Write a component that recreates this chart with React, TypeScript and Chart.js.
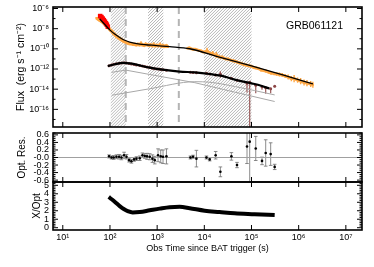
import React, { useEffect, useRef } from 'react';
import { Chart, registerables } from 'chart.js';

Chart.register(...registerables);

const FONT = "'Liberation Sans', Arial, Helvetica, sans-serif";

// ---------------- axes ----------------
const timeMin = 6.2;
const timeMax = 2.2e7;
const timeTicks = [10, 100, 1e3, 1e4, 1e5, 1e6, 1e7];
const timeTickLabels = ['10¹', '10²', '10³', '10⁴', '10⁵', '10⁶', '10⁷'];

const fluxMin = 1.78e-18;
const fluxMax = 1.41e-6;
const fluxTicks = [1e-16, 1e-14, 1e-12, 1e-10, 1e-8, 1e-6];
const fluxTickLabels = ['10⁻¹⁶', '10⁻¹⁴', '10⁻¹²', '10⁻¹⁰', '10⁻⁸', '10⁻⁶'];
const fluxMinorTicks = [1e-17, 1e-15, 1e-13, 1e-11, 1e-9, 1e-7];

const resMin = -0.65;
const resMax = 0.65;
const resTicks = [-0.6, -0.4, -0.2, 0, 0.2, 0.4, 0.6];
const resTickLabels = ['-0.6', '-0.4', '-0.2', '-0.0', '0.2', '0.4', '0.6'];
const resMinorTicks = [-0.65, -0.55, -0.5, -0.45, -0.35, -0.3, -0.25, -0.15, -0.1, -0.05, 0.05, 0.1, 0.15, 0.25, 0.3, 0.35, 0.45, 0.5, 0.55, 0.65];

const ratioMin = -0.27;
const ratioMax = 5.39;
const ratioTicks = [0, 1, 2, 3, 4, 5];
const ratioTickLabels = ['0', '1', '2', '3', '4', '5'];
const ratioMinorTicks = [0.2, 0.4, 0.6, 0.8, 1.2, 1.4, 1.6, 1.8, 2.2, 2.4, 2.6, 2.8, 3.2, 3.4, 3.6, 3.8, 4.2, 4.4, 4.6, 4.8, 5.2];

// ---------------- shaded intervals ----------------
const hatchStart = [104, 641, 9800];
const hatchEnd = [216, 1350, 1.0e5];
const dashedTimes = [216, 2880];

// ---------------- X-ray (orange) ----------------
const xrayTime1 = [52, 56, 60, 65, 70, 75, 80, 86, 92, 98, 105, 112, 120, 128, 137, 147, 158, 170, 183, 197, 212, 228, 245, 265, 285, 310, 335, 360, 390, 420, 455, 490, 530, 570, 620, 670, 720, 780, 840, 910, 980, 1060, 1150, 1240, 1340, 1450, 1570, 1680];
const xrayFlux1 = [1.12e-7, 8.9e-8, 7.1e-8, 5.6e-8, 4.5e-8, 3.2e-8, 2.5e-8, 1.78e-8, 1.26e-8, 8.9e-9, 6.3e-9, 5.0e-9, 3.2e-9, 2.5e-9, 1.78e-9, 1.41e-9, 1.12e-9, 8.9e-10, 7.1e-10, 5.6e-10, 5.0e-10, 4.0e-10, 3.5e-10, 3.2e-10, 3.2e-10, 2.8e-10, 2.8e-10, 2.5e-10, 2.8e-10, 2.5e-10, 3.2e-10, 2.5e-10, 2.2e-10, 2.8e-10, 2.5e-10, 2.2e-10, 2.5e-10, 2.0e-10, 2.5e-10, 2.0e-10, 2.2e-10, 2.0e-10, 2.5e-10, 1.78e-10, 2.0e-10, 1.78e-10, 2.0e-10, 1.58e-10];
const xrayErrDex1 = [0.1, 0.1, 0.1, 0.1, 0.1, 0.1, 0.1, 0.1, 0.1, 0.1, 0.1, 0.1, 0.1, 0.1, 0.1, 0.1, 0.1, 0.1, 0.1, 0.1, 0.08, 0.08, 0.1, 0.08, 0.1, 0.08, 0.12, 0.08, 0.15, 0.08, 0.25, 0.1, 0.08, 0.2, 0.1, 0.08, 0.12, 0.08, 0.25, 0.1, 0.12, 0.08, 0.22, 0.1, 0.2, 0.1, 0.15, 0.1];

const xrayTime2 = [4400, 4800, 5300, 5800, 6400, 7000, 7700, 8500, 9400, 10300, 11400, 12500, 13800, 15000, 16500, 18000, 20000, 22000, 24000, 26500, 29000, 32000, 35000, 38500, 42000, 46000, 51000, 56000, 62000, 68000, 75000, 83000, 92000, 1.0e5, 1.12e5, 1.25e5, 1.4e5, 1.6e5, 1.8e5, 2.0e5, 2.3e5, 2.6e5, 3.0e5, 3.4e5, 3.9e5, 4.5e5, 5.2e5, 6.0e5, 7.0e5, 8.0e5, 9.5e5, 1.1e6, 1.3e6, 1.5e6, 1.8e6, 2.0e6];
const xrayFlux2 = [1.12e-10, 1.26e-10, 1.0e-10, 8.9e-11, 8.9e-11, 7.9e-11, 7.1e-11, 6.3e-11, 5.0e-11, 5.0e-11, 6.3e-11, 4.5e-11, 3.2e-11, 3.5e-11, 2.5e-11, 2.5e-11, 1.78e-11, 1.41e-11, 1.58e-11, 1.12e-11, 1.0e-11, 1.0e-11, 7.9e-12, 7.1e-12, 6.3e-12, 5.6e-12, 4.5e-12, 4.0e-12, 3.5e-12, 2.8e-12, 2.5e-12, 2.2e-12, 2.0e-12, 1.78e-12, 1.41e-12, 1.26e-12, 1.12e-12, 7.9e-13, 7.1e-13, 6.3e-13, 5.0e-13, 4.0e-13, 3.5e-13, 3.2e-13, 2.8e-13, 2.5e-13, 2.0e-13, 1.58e-13, 1.12e-13, 1.12e-13, 7.9e-14, 6.3e-14, 4.5e-14, 4.0e-14, 3.2e-14, 2.8e-14];
const xrayErrDex2 = [0.08, 0.08, 0.08, 0.08, 0.08, 0.1, 0.08, 0.1, 0.08, 0.1, 0.3, 0.1, 0.1, 0.25, 0.1, 0.3, 0.1, 0.1, 0.1, 0.12, 0.1, 0.12, 0.1, 0.1, 0.12, 0.1, 0.1, 0.12, 0.1, 0.12, 0.12, 0.12, 0.12, 0.12, 0.15, 0.12, 0.15, 0.15, 0.15, 0.15, 0.15, 0.18, 0.15, 0.18, 0.2, 0.2, 0.2, 0.25, 0.25, 0.35, 0.25, 0.3, 0.3, 0.3, 0.3, 0.3];

// ---------------- BAT (red) ----------------
const batTime = [62, 66, 70, 74, 78, 82, 86, 90];
const batFlux = [1.78e-7, 1.41e-7, 1.0e-7, 7.1e-8, 5.0e-8, 3.5e-8, 2.5e-8, 1.58e-8];

// ---------------- models ----------------
const xrayModelTime = [60.6, 77, 99, 126, 161, 206, 263, 427, 980, 1840, 4900, 1.9e4, 1.0e5, 5.0e5, 2.0e6];
const xrayModelFlux = [9.3e-8, 2.75e-8, 7.6e-9, 2.9e-9, 1.35e-9, 7.1e-10, 4.6e-10, 3.0e-10, 2.1e-10, 1.66e-10, 1.02e-10, 1.7e-11, 2.0e-12, 2.3e-13, 3.3e-14];

const optModelTime = [90, 126, 187, 263, 695, 1440, 3000, 6300, 1.3e4, 2.7e4, 4.4e4, 1.0e5, 1.6e5, 2.4e5];
const optModelFlux = [1.95e-12, 2.95e-12, 4.1e-12, 3.6e-12, 1.38e-12, 8.1e-13, 5.5e-13, 4.7e-13, 3.2e-13, 1.78e-13, 8.9e-14, 3.8e-14, 2.2e-14, 1.15e-14];

const comp1Time = [109, 216, 6300, 4.4e4, 3.1e5];
const comp1Flux = [4.7e-13, 7.8e-13, 4.4e-14, 5.1e-15, 6.0e-16];
const comp2Time = [109, 690, 6300, 1.3e4, 4.4e4, 3.1e5];
const comp2Flux = [2.5e-15, 1.1e-14, 5.5e-14, 4.9e-14, 1.86e-14, 2.7e-15];

// ---------------- optical data ----------------
const optTime = [95.7, 108, 120, 137, 156, 175, 199, 224, 254, 285, 324, 364, 428, 488, 546, 611, 697, 795, 889, 1045, 1190, 1333, 1574, 5080, 5770, 6800, 11100, 13000, 17400, 21900, 37500, 49300, 80300, 91600, 1.23e5, 1.67e5, 2.0e5, 2.55e5, 3.1e5];
const optFlux = [2.1e-12, 2.5e-12, 2.9e-12, 3.4e-12, 3.8e-12, 4.0e-12, 4.2e-12, 4.0e-12, 3.5e-12, 3.2e-12, 2.8e-12, 2.5e-12, 2.2e-12, 2.0e-12, 1.74e-12, 1.58e-12, 1.41e-12, 1.2e-12, 1.07e-12, 1.0e-12, 8.9e-13, 8.3e-13, 7.6e-13, 4.7e-13, 4.6e-13, 4.3e-13, 3.8e-13, 3.2e-13, 2.5e-13, 3.0e-13, 1.2e-13, 7.9e-14, 3.8e-14, 5.0e-14, 2.5e-14, 1.78e-14, 1.41e-14, 1.12e-14, 2.0e-14];
const optErrLoDex = [0.04, 0.04, 0.04, 0.04, 0.04, 0.04, 0.04, 0.04, 0.04, 0.04, 0.04, 0.04, 0.04, 0.04, 0.04, 0.04, 0.04, 0.04, 0.04, 0.04, 0.04, 0.04, 0.04, 0.03, 0.03, 0.1, 0.03, 0.03, 0.05, 0.35, 0.05, 0.08, 0.9, 8, 0.8, 0.3, 0.6, 0.45, 0.1];
const optErrHiDex = [0.04, 0.04, 0.04, 0.04, 0.04, 0.04, 0.04, 0.04, 0.04, 0.04, 0.04, 0.04, 0.04, 0.04, 0.04, 0.04, 0.04, 0.04, 0.04, 0.04, 0.04, 0.04, 0.04, 0.03, 0.03, 0.1, 0.03, 0.03, 0.05, 0.3, 0.05, 0.08, 0.1, 0.1, 0.1, 0.1, 0.1, 0.1, 0.1];

// ---------------- residuals ----------------
const resTime = optTime;
const resValue = [0.03, 0.0, 0.0, 0.02, 0.02, 0.0, 0.06, 0.02, -0.07, -0.1, -0.05, -0.03, -0.02, 0.06, 0.04, 0.03, 0.02, -0.03, -0.07, 0.06, 0.03, 0.02, 0.03, 0.0, 0.02, -0.03, 0.0, -0.05, 0.06, -0.38, 0.03, -0.2, 0.29, 0.42, 0.24, -0.09, 0.12, 0.09, -0.25];
const resErr = [0.04, 0.04, 0.05, 0.05, 0.06, 0.06, 0.08, 0.06, 0.05, 0.05, 0.05, 0.05, 0.06, 0.06, 0.06, 0.08, 0.08, 0.1, 0.1, 0.17, 0.17, 0.18, 0.2, 0.04, 0.04, 0.22, 0.04, 0.04, 0.1, 0.13, 0.1, 0.07, 0.45, 1.2, 0.32, 0.1, 0.35, 0.3, 0.07];

// ---------------- X/Opt ----------------
const ratioTime = [94, 109, 133, 161, 196, 238, 303, 427, 695, 1135, 1840, 3000, 4900, 1.02e4, 2.1e4, 4.4e4, 1.16e5, 3.1e5];
const ratioValue = [3.63, 3.35, 2.95, 2.55, 2.2, 1.95, 1.8, 1.85, 2.05, 2.25, 2.42, 2.46, 2.3, 2.0, 1.85, 1.7, 1.6, 1.5];

// ---------------- helpers ----------------
const pts = (xs: number[], ys: number[]) => xs.map((x, i) => ({ x, y: ys[i] }));
const scaleDown = (ys: number[], dex: number[]) => ys.map((y, i) => y / Math.pow(10, dex[i]));
const scaleUp = (ys: number[], dex: number[]) => ys.map((y, i) => y * Math.pow(10, dex[i]));
const shiftDown = (ys: number[], e: number[]) => ys.map((y, i) => y - e[i]);
const shiftUp = (ys: number[], e: number[]) => ys.map((y, i) => y + e[i]);

const errorBarPlugin = {
  id: 'errorBars',
  beforeDatasetsDraw(chart: any) {
    const { ctx, chartArea: a } = chart;
    ctx.save();
    ctx.beginPath();
    ctx.rect(a.left, a.top, a.right - a.left, a.bottom - a.top);
    ctx.clip();
    chart.data.datasets.forEach((ds: any, i: number) => {
      const eb = ds.errorBars;
      if (!eb) return;
      const meta = chart.getDatasetMeta(i);
      const ys = chart.scales[meta.yAxisID];
      ctx.strokeStyle = eb.color;
      ctx.lineWidth = eb.width;
      ctx.beginPath();
      meta.data.forEach((el: any, j: number) => {
        const px = el.x;
        const y1 = Math.min(ys.getPixelForValue(eb.lo[j]), a.bottom + 5);
        const y2 = ys.getPixelForValue(eb.hi[j]);
        ctx.moveTo(px, y1);
        ctx.lineTo(px, y2);
        if (eb.cap) {
          ctx.moveTo(px - eb.cap, y1);
          ctx.lineTo(px + eb.cap, y1);
          ctx.moveTo(px - eb.cap, y2);
          ctx.lineTo(px + eb.cap, y2);
        }
      });
      ctx.stroke();
    });
    ctx.restore();
  },
};

function panelPlugin(cfg: { yMajor: number[]; yMinor: number[]; under?: (c: any) => void; over?: (c: any) => void }) {
  return {
    id: 'panelFrame',
    beforeDatasetsDraw(chart: any) {
      if (cfg.under) cfg.under(chart);
    },
    afterDraw(chart: any) {
      const { ctx, chartArea: a, scales } = chart;
      const xs = scales.x;
      const ys = scales.y;
      ctx.save();
      ctx.strokeStyle = '#000';
      ctx.lineWidth = 1;
      ctx.beginPath();
      for (const v of timeTicks) {
        const px = xs.getPixelForValue(v);
        if (px < a.left || px > a.right) continue;
        ctx.moveTo(px, a.top);
        ctx.lineTo(px, a.top + 5);
        ctx.moveTo(px, a.bottom);
        ctx.lineTo(px, a.bottom - 5);
      }
      for (const v of cfg.yMajor) {
        const py = ys.getPixelForValue(v);
        ctx.moveTo(a.left, py);
        ctx.lineTo(a.left + 5, py);
        ctx.moveTo(a.right, py);
        ctx.lineTo(a.right - 5, py);
      }
      for (const v of cfg.yMinor) {
        const py = ys.getPixelForValue(v);
        ctx.moveTo(a.left, py);
        ctx.lineTo(a.left + 2.5, py);
        ctx.moveTo(a.right, py);
        ctx.lineTo(a.right - 2.5, py);
      }
      ctx.stroke();
      ctx.lineWidth = 1.6;
      ctx.strokeRect(a.left, a.top, a.right - a.left, a.bottom - a.top);
      if (cfg.over) cfg.over(chart);
      ctx.restore();
    },
  };
}

function baseOptions(padding: any) {
  return {
    responsive: false,
    animation: false as const,
    devicePixelRatio: 1,
    events: [] as any[],
    layout: { padding },
    plugins: { legend: { display: false }, tooltip: { enabled: false } },
  };
}

function yAxis(o: { type: string; min: number; max: number; ticks: number[]; labels: string[]; title: string; titlePad: number; titleSize?: number }) {
  return {
    type: o.type,
    min: o.min,
    max: o.max,
    position: 'left',
    afterFit: (s: any) => {
      s.width = 53;
      s.paddingTop = 0;
      s.paddingBottom = 0;
    },
    afterBuildTicks: (s: any) => {
      s.ticks = o.ticks.map((v) => ({ value: v }));
    },
    ticks: {
      autoSkip: false,
      padding: 4,
      color: '#000',
      font: { family: FONT, size: 9 },
      callback: (_v: any, i: number) => o.labels[i],
    },
    grid: { display: false, drawTicks: false },
    border: { display: false },
    title: {
      display: true,
      text: o.title,
      color: '#000',
      font: { family: FONT, size: o.titleSize || 10 },
      padding: { top: o.titlePad, bottom: 0 },
    },
  };
}

const hiddenX = { type: 'logarithmic', min: timeMin, max: timeMax, display: false };

function topConfig(): any {
  const under = (chart: any) => {
    const { ctx, chartArea: a, scales } = chart;
    const x = scales.x;
    ctx.save();
    const h = a.bottom - a.top;
    for (let i = 0; i < hatchStart.length; i++) {
      const x0 = x.getPixelForValue(hatchStart[i]);
      const x1 = x.getPixelForValue(hatchEnd[i]);
      ctx.save();
      ctx.beginPath();
      ctx.rect(x0, a.top, x1 - x0, h);
      ctx.clip();
      ctx.strokeStyle = '#9a9a9a';
      ctx.lineWidth = 0.7;
      ctx.beginPath();
      for (let d = x0 - h; d < x1; d += 3) {
        ctx.moveTo(d, a.bottom);
        ctx.lineTo(d + h, a.top);
      }
      ctx.stroke();
      ctx.restore();
    }
    ctx.strokeStyle = '#b4b4b4';
    ctx.lineWidth = 2;
    ctx.setLineDash([7, 5]);
    ctx.beginPath();
    for (const t of dashedTimes) {
      const px = x.getPixelForValue(t);
      ctx.moveTo(px, a.top);
      ctx.lineTo(px, a.bottom);
    }
    ctx.stroke();
    ctx.restore();
  };
  const over = (chart: any) => {
    const { ctx, chartArea: a } = chart;
    ctx.fillStyle = '#000';
    ctx.font = `10.5px ${FONT}`;
    ctx.textAlign = 'center';
    ctx.textBaseline = 'middle';
    ctx.fillText('GRB061121', a.right - 47.5, a.top + 19.5);
  };
  return {
    type: 'scatter',
    data: {
      datasets: [
        { data: pts(xrayModelTime, xrayModelFlux), showLine: true, borderColor: '#000', borderWidth: 1.3, pointRadius: 0, cubicInterpolationMode: 'monotone' },
        { data: pts(optModelTime, optModelFlux), showLine: true, borderColor: '#000', borderWidth: 2.2, pointRadius: 0, cubicInterpolationMode: 'monotone' },
        { data: pts(batTime, batFlux), showLine: true, borderColor: '#ff0000', backgroundColor: '#ff0000', borderWidth: 3, pointRadius: 1.1, pointStyle: 'rect' },
        {
          data: pts(xrayTime1, xrayFlux1), showLine: true, borderColor: '#ffac4f', backgroundColor: '#ffa640', borderWidth: 3.5, pointRadius: 1.6, pointStyle: 'rect', pointBorderWidth: 0,
          errorBars: { lo: scaleDown(xrayFlux1, xrayErrDex1), hi: scaleUp(xrayFlux1, xrayErrDex1), color: '#ffa640', width: 1.5 },
        },
        {
          data: pts(xrayTime2, xrayFlux2), showLine: true, borderColor: '#ffac4f', backgroundColor: '#ffa640', borderWidth: 3, pointRadius: 1.5, pointStyle: 'rect', pointBorderWidth: 0,
          errorBars: { lo: scaleDown(xrayFlux2, xrayErrDex2), hi: scaleUp(xrayFlux2, xrayErrDex2), color: '#ffa640', width: 1.4 },
        },
        {
          data: pts(optTime, optFlux), showLine: false, backgroundColor: '#8c4646', borderColor: '#8c4646', pointRadius: 1.5, pointBorderWidth: 0,
          errorBars: { lo: scaleDown(optFlux, optErrLoDex), hi: scaleUp(optFlux, optErrHiDex), color: '#9a5a5a', width: 1.2 },
        },
        { data: pts(comp1Time, comp1Flux), showLine: true, borderColor: '#a8a8a8', borderWidth: 1, pointRadius: 0, tension: 0 },
        { data: pts(comp2Time, comp2Flux), showLine: true, borderColor: '#a8a8a8', borderWidth: 1, pointRadius: 0, cubicInterpolationMode: 'monotone' },
      ],
    },
    options: {
      ...baseOptions({ top: 5.7, right: 12, bottom: 1, left: 0 }),
      scales: {
        x: hiddenX,
        y: yAxis({ type: 'logarithmic', min: fluxMin, max: fluxMax, ticks: fluxTicks, labels: fluxTickLabels, title: 'Flux  (erg s⁻¹ cm⁻²)', titlePad: 15, titleSize: 10.5 }),
      },
    },
    plugins: [panelPlugin({ yMajor: fluxTicks, yMinor: fluxMinorTicks, under, over }), errorBarPlugin],
  };
}

function midConfig(): any {
  return {
    type: 'scatter',
    data: {
      datasets: [
        {
          data: pts(resTime, resValue), showLine: false, backgroundColor: '#000', borderColor: '#000', pointRadius: 1.3, pointBorderWidth: 0,
          errorBars: { lo: shiftDown(resValue, resErr), hi: shiftUp(resValue, resErr), color: '#6e6e6e', width: 0.8, cap: 1.8 },
        },
        { data: pts([timeMin, timeMax], [0, 0]), showLine: true, borderColor: '#a0a0a0', borderWidth: 1, pointRadius: 0 },
      ],
    },
    options: {
      ...baseOptions({ top: 10, right: 12, bottom: 10, left: 0 }),
      scales: {
        x: hiddenX,
        y: yAxis({ type: 'linear', min: resMin, max: resMax, ticks: resTicks, labels: resTickLabels, title: 'Opt. Res.', titlePad: 16 }),
      },
    },
    plugins: [panelPlugin({ yMajor: resTicks, yMinor: resMinorTicks }), errorBarPlugin],
  };
}

function botConfig(): any {
  return {
    type: 'scatter',
    data: {
      datasets: [
        { data: pts(ratioTime, ratioValue), showLine: true, borderColor: '#000', borderWidth: 4, pointRadius: 0, cubicInterpolationMode: 'monotone' },
      ],
    },
    options: {
      ...baseOptions({ top: 10, right: 12, bottom: 0, left: 0 }),
      scales: {
        x: {
          type: 'logarithmic',
          min: timeMin,
          max: timeMax,
          position: 'bottom',
          afterFit: (s: any) => {
            s.height = 37;
            s.paddingLeft = 0;
            s.paddingRight = 0;
          },
          afterBuildTicks: (s: any) => {
            s.ticks = timeTicks.map((v) => ({ value: v }));
          },
          ticks: {
            autoSkip: false,
            maxRotation: 0,
            minRotation: 0,
            padding: 2.5,
            color: '#000',
            font: { family: FONT, size: 9 },
            callback: (_v: any, i: number) => timeTickLabels[i],
          },
          grid: { display: false, drawTicks: false },
          border: { display: false },
          title: {
            display: true,
            text: 'Obs Time since BAT trigger (s)',
            color: '#000',
            font: { family: FONT, size: 9 },
            padding: { top: 0, bottom: 13.3 },
          },
        },
        y: yAxis({ type: 'linear', min: ratioMin, max: ratioMax, ticks: ratioTicks, labels: ratioTickLabels, title: 'X/Opt', titlePad: 31 }),
      },
    },
    plugins: [panelPlugin({ yMajor: ratioTicks, yMinor: ratioMinorTicks }), errorBarPlugin],
  };
}

export default function App() {
  const topRef = useRef<HTMLCanvasElement>(null);
  const midRef = useRef<HTMLCanvasElement>(null);
  const botRef = useRef<HTMLCanvasElement>(null);

  useEffect(() => {
    const charts = [
      new Chart(topRef.current as HTMLCanvasElement, topConfig()),
      new Chart(midRef.current as HTMLCanvasElement, midConfig()),
      new Chart(botRef.current as HTMLCanvasElement, botConfig()),
    ];
    return () => charts.forEach((c) => c.destroy());
  }, []);

  return (
    <div style={{ position: 'absolute', left: 0, top: 0, width: 374, height: 267, background: '#fff', overflow: 'hidden' }}>
      <canvas ref={topRef} width={374} height={134} style={{ position: 'absolute', left: 0, top: 0 }} />
      <canvas ref={midRef} width={374} height={69} style={{ position: 'absolute', left: 0, top: 123 }} />
      <canvas ref={botRef} width={374} height={95} style={{ position: 'absolute', left: 0, top: 172 }} />
    </div>
  );
}
